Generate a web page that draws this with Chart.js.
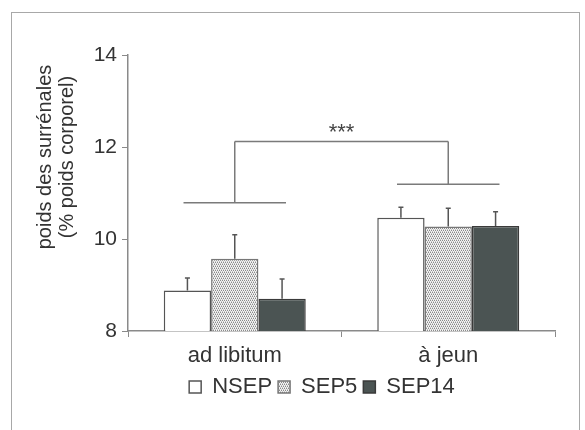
<!DOCTYPE html>
<html><head><meta charset="utf-8">
<script src="https://cdn.jsdelivr.net/npm/chart.js@4/dist/chart.umd.min.js"></script>
<style>
html,body{margin:0;padding:0;background:#fff;}
#wrap{position:relative;width:585px;height:430px;overflow:hidden;}
#frame{position:absolute;left:11px;top:12px;width:569px;height:440px;border:1px solid #a8a8a8;box-sizing:border-box;}
canvas{position:absolute;left:0;top:0;}
</style></head><body>
<div id="wrap"><div id="frame"></div><canvas id="c" width="585" height="430"></canvas></div>
<script>
// ---- data ----
const categories = ['ad libitum', 'à jeun'];
const seriesNames = ['NSEP', 'SEP5', 'SEP14'];
const nsep = [8.88, 10.46];
const sep5 = [9.57, 10.27];
const sep14 = [8.70, 10.28];
const nsepErr = [0.27, 0.23];
const sep5Err = [0.52, 0.40];
const sep14Err = [0.43, 0.31];
const yTicks = [8, 10, 12, 14];
const yTitle = ['poids des surrénales', '(% poids corporel)'];
const groupLineLevels = [10.79, 11.19];
const bracketTop = 12.12;
const bracketLabel = '***';

const FONT = '"Liberation Sans", Arial, sans-serif';
const TXT = '#333';
const AX = '#8a8a8a';

function makePattern(){
  const p = document.createElement('canvas'); p.width = 4; p.height = 4;
  const g = p.getContext('2d');
  g.fillStyle = '#f3f3f3'; g.fillRect(0,0,4,4);
  g.fillStyle = '#8a8a8a';
  [[0,0],[2,0],[1,2],[3,2]].forEach(([a,b]) => g.fillRect(a,b,1,1));
  g.fillStyle = '#c4c4c4';
  [[1,1],[3,1],[0,3],[2,3]].forEach(([a,b]) => g.fillRect(a,b,1,1));
  return g.createPattern(p, 'repeat');
}

const errorBars = {
  id: 'errorBars',
  afterDatasetsDraw(chart){
    const ctx = chart.ctx, ys = chart.scales.y;
    chart.data.datasets.forEach((ds, i) => {
      chart.getDatasetMeta(i).data.forEach((bar, j) => {
        const top = ys.getPixelForValue(ds.data[j] + ds.errors[j]);
        ctx.save();
        ctx.strokeStyle = '#555'; ctx.lineWidth = 1.5;
        ctx.beginPath();
        ctx.moveTo(bar.x, bar.y); ctx.lineTo(bar.x, top);
        ctx.moveTo(bar.x - 2.5, top); ctx.lineTo(bar.x + 2.5, top);
        ctx.stroke(); ctx.restore();
      });
    });
  }
};

const bracket = {
  id: 'bracket',
  afterDatasetsDraw(chart){
    const {ctx, scales:{x, y}} = chart;
    const cw = x.getPixelForValue(1) - x.getPixelForValue(0);
    const half = 0.24 * cw;
    const yt = y.getPixelForValue(bracketTop);
    ctx.save();
    ctx.strokeStyle = '#7a7a7a'; ctx.lineWidth = 1.5;
    ctx.beginPath();
    groupLineLevels.forEach((lv, i) => {
      const cx = x.getPixelForValue(i), py = y.getPixelForValue(lv);
      ctx.moveTo(cx - half, py); ctx.lineTo(cx + half, py);
      ctx.moveTo(cx, py); ctx.lineTo(cx, yt);
    });
    ctx.moveTo(x.getPixelForValue(0), yt); ctx.lineTo(x.getPixelForValue(1), yt);
    ctx.stroke();
    ctx.fillStyle = '#444'; ctx.font = '22px ' + FONT;
    ctx.textAlign = 'center'; ctx.textBaseline = 'alphabetic';
    ctx.fillText(bracketLabel, (x.getPixelForValue(0) + x.getPixelForValue(1)) / 2, yt - 2);
    ctx.restore();
  }
};

const yTitlePlugin = {
  id: 'yTitleText',
  afterDraw(chart){
    const ctx = chart.ctx;
    ctx.save();
    ctx.translate(45, 157); ctx.rotate(-Math.PI/2);
    ctx.font = '20px ' + FONT; ctx.fillStyle = TXT;
    ctx.textAlign = 'center'; ctx.textBaseline = 'middle';
    yTitle.forEach((t, i) => ctx.fillText(t, 0, i * 22));
    ctx.restore();
  }
};

const L = 89, R = 30;
new Chart(document.getElementById('c'), {
  type: 'bar',
  data: {
    labels: categories,
    datasets: [
      { label: seriesNames[0], data: nsep, errors: nsepErr, backgroundColor: '#ffffff', borderColor: '#555', borderWidth: 1.5 },
      { label: seriesNames[1], data: sep5, errors: sep5Err, backgroundColor: makePattern(), borderColor: '#777', borderWidth: 1.5 },
      { label: seriesNames[2], data: sep14, errors: sep14Err, backgroundColor: '#4b5453', borderColor: '#3a3a3a', borderWidth: 1.5 }
    ]
  },
  options: {
    responsive: false, animation: false, devicePixelRatio: 1,
    layout: { padding: { left: L, right: R, top: 55, bottom: 22 } },
    datasets: { bar: { categoryPercentage: 0.665, barPercentage: 1.0 } },
    plugins: {
      tooltip: { enabled: false },
      legend: {
        position: 'bottom',
        labels: { font: { family: FONT, size: 22 }, color: TXT, boxWidth: 12, boxHeight: 12, padding: 6 }
      }
    },
    scales: {
      x: {
        afterFit(s){ s.height = 39; },
        grid: { display: true, drawOnChartArea: false, tickLength: 6, color: AX, offset: true },
        border: { color: AX, width: 1.5 },
        ticks: { font: { family: FONT, size: 22 }, color: TXT, padding: 6 }
      },
      y: {
        min: yTicks[0], max: yTicks[yTicks.length - 1],
        afterFit(s){ s.width = 128 - L; },
        afterBuildTicks(s){ s.ticks = yTicks.map(v => ({ value: v })); },
        grid: { drawOnChartArea: false, tickLength: 6, color: AX },
        border: { color: AX, width: 1.5 },
        ticks: { font: { family: FONT, size: 21 }, color: TXT, padding: 5 }
      }
    }
  },
  plugins: [errorBars, bracket, yTitlePlugin]
});
</script>
</body></html>
